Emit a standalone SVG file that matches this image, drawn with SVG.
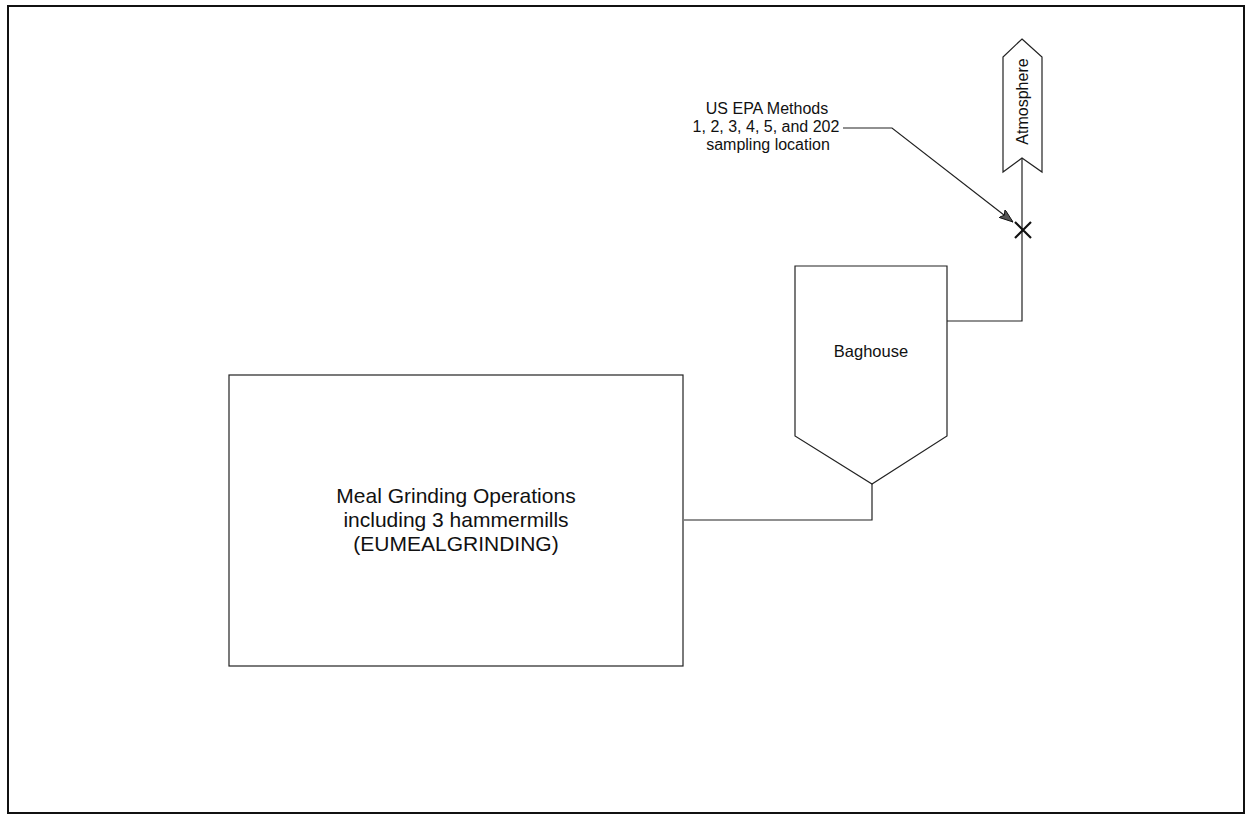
<svg xmlns="http://www.w3.org/2000/svg" width="1246" height="816" viewBox="0 0 1246 816">
<style>
.ln{fill:none;stroke:#222;stroke-width:1.2}
.sh{fill:#fff;stroke:#222;stroke-width:1.2}
.t{font-family:"Liberation Sans",Arial,sans-serif;fill:#111;text-anchor:middle}
</style>
<defs>
<marker id="arr" viewBox="0 0 14 10" refX="14" refY="5" markerWidth="14" markerHeight="10" markerUnits="userSpaceOnUse" orient="auto">
<path d="M0,0 L14,5 L0,10 L3,5 Z" fill="#555" stroke="#111" stroke-width="0.9"/>
</marker>
</defs>
<rect width="1246" height="816" fill="#fff"/>
<rect x="8" y="6" width="1236" height="807" fill="none" stroke="#111" stroke-width="2"/>
<g id="connectors">
<polyline class="ln" points="684,520 872,520 872,484"/>
<polyline class="ln" points="947,321 1022,321 1022,158"/>
<polyline class="ln" points="843,128 892,128 1013,222" marker-end="url(#arr)"/>
</g>
<g id="meal">
<rect class="sh" x="229" y="375" width="454" height="291"/>
<text class="t" font-size="21" x="456" y="503">Meal Grinding Operations</text>
<text class="t" font-size="21" x="456" y="527">including 3 hammermills</text>
<text class="t" font-size="21" x="456" y="551">(EUMEALGRINDING)</text>
</g>
<g id="baghouse">
<path class="sh" d="M795,266 L947,266 L947,436 L872,484 L795,436 Z"/>
<text class="t" font-size="16.5" x="871" y="357">Baghouse</text>
</g>
<g id="atmosphere">
<path class="sh" d="M1022,39 L1042,57 L1042,172 L1022,158 L1003,172 L1003,57 Z"/>
<text class="t" font-size="16" transform="translate(1028,101.5) rotate(-90)">Atmosphere</text>
</g>
<g id="sampling">
<path d="M1015,222 L1031,238 M1031,222 L1015,238" stroke="#111" stroke-width="2.2" fill="none"/>
<text class="t" font-size="16" x="767" y="114">US EPA Methods</text>
<text class="t" font-size="16" x="766" y="132">1, 2, 3, 4, 5, and 202</text>
<text class="t" font-size="16" x="768" y="150">sampling location</text>
</g>
</svg>
